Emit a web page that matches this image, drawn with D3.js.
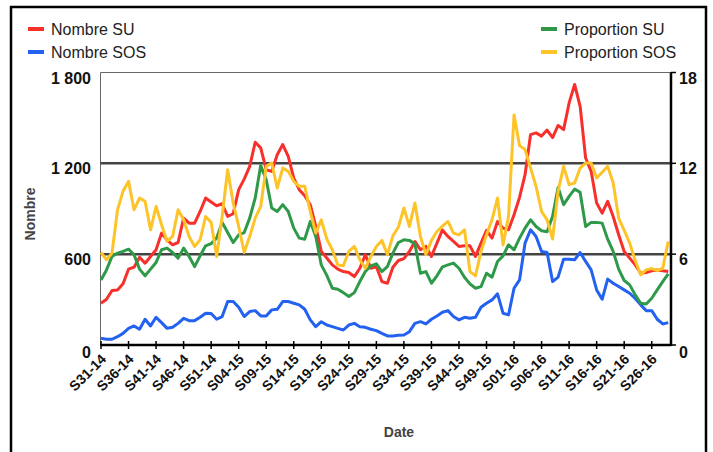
<!DOCTYPE html>
<html lang="fr">
<head>
  <meta charset="utf-8">
  <title>Nombre et proportion SU / SOS</title>
  <script src="https://d3js.org/d3.v7.min.js"></script>
  <style>
    body { margin: 0; background: #fff; font-family: "Liberation Sans", Arial, sans-serif; }
    svg { display: block; }
    .tick-lbl { font-size: 16px; font-weight: bold; fill: #111; }
    .x-lbl { font-size: 14px; font-weight: bold; fill: #111; }
    .legend text { font-size: 16px; fill: #222; }
    .title { font-size: 14px; font-weight: bold; fill: #444; }
  </style>
</head>
<body>
<svg width="713" height="452"></svg>
<script>
// Semaines (S31-14 .. S29-16)
const weeks = [
  "S31-14","S32-14","S33-14","S34-14","S35-14","S36-14","S37-14","S38-14","S39-14","S40-14","S41-14",
  "S42-14","S43-14","S44-14","S45-14","S46-14","S47-14","S48-14","S49-14","S50-14","S51-14","S52-14",
  "S01-15","S02-15","S03-15","S04-15","S05-15","S06-15","S07-15","S08-15","S09-15","S10-15","S11-15",
  "S12-15","S13-15","S14-15","S15-15","S16-15","S17-15","S18-15","S19-15","S20-15","S21-15","S22-15",
  "S23-15","S24-15","S25-15","S26-15","S27-15","S28-15","S29-15","S30-15","S31-15","S32-15","S33-15",
  "S34-15","S35-15","S36-15","S37-15","S38-15","S39-15","S40-15","S41-15","S42-15","S43-15","S44-15",
  "S45-15","S46-15","S47-15","S48-15","S49-15","S50-15","S51-15","S52-15","S53-15","S01-16","S02-16",
  "S03-16","S04-16","S05-16","S06-16","S07-16","S08-16","S09-16","S10-16","S11-16","S12-16","S13-16",
  "S14-16","S15-16","S16-16","S17-16","S18-16","S19-16","S20-16","S21-16","S22-16","S23-16","S24-16",
  "S25-16","S26-16","S27-16","S28-16","S29-16"
];

// Nombre SU (axe gauche)
const nombreSU = [
  276, 302, 360, 364, 404, 501, 514, 580, 540, 585, 629, 739, 695, 662, 677, 838, 805, 805, 882, 971, 945,
  920, 933, 849, 867, 1026, 1096, 1180, 1339, 1302, 1158, 1147, 1257, 1324, 1246, 1103, 1026, 986, 927, 783, 618, 575,
  529, 501, 485, 479, 452, 507, 596, 507, 518, 419, 408, 514, 558, 571, 618, 684, 629, 651, 585, 673, 760,
  717, 684, 651, 655, 655, 585, 673, 757, 706, 816, 772, 761, 860, 975, 1125, 1390, 1401, 1380, 1420, 1370, 1450,
  1423, 1599, 1721, 1577, 1235, 1147, 938, 871, 949, 849, 728, 618, 574, 529, 474, 479, 490, 496, 490, 485
];

// Nombre SOS (axe gauche)
const nombreSOS = [
  44, 38, 38, 55, 77, 110, 126, 104, 170, 126, 183, 148, 110, 117, 143, 176, 161, 161, 183, 210, 208,
  170, 188, 287, 287, 249, 188, 221, 227, 192, 192, 232, 236, 287, 287, 276, 265, 236, 166, 121, 154, 132,
  121, 110, 99, 132, 143, 121, 117, 104, 95, 77, 60, 60, 64, 66, 88, 143, 154, 139, 170, 192, 216,
  227, 188, 166, 183, 177, 183, 249, 276, 298, 338, 210, 199, 375, 430, 673, 761, 717, 618, 611, 419, 448,
  567, 567, 563, 611, 552, 496, 364, 302, 435, 408, 386, 364, 342, 307, 265, 227, 227, 170, 139, 148
];

// Proportion SU (axe droit, %)
const propSU = [
  4.30, 4.96, 5.85, 6.07, 6.18, 6.33, 5.96, 5.01, 4.57, 5.01, 5.45, 6.29, 6.40, 6.11, 5.74, 6.40, 5.85, 5.18, 5.89, 6.55, 6.70,
  7.06, 8.10, 7.43, 6.77, 7.28, 7.43, 8.38, 9.71, 11.85, 10.92, 9.05, 8.82, 9.27, 8.82, 7.72, 7.06, 6.99, 8.16, 7.17, 5.29, 4.60,
  3.75, 3.68, 3.46, 3.20, 3.46, 4.19, 4.85, 5.23, 5.36, 4.85, 5.18, 6.07, 6.77, 6.95, 6.91, 6.68, 4.74, 4.85, 4.08, 4.57, 5.16,
  5.29, 5.41, 5.07, 4.48, 4.04, 3.75, 3.86, 4.74, 4.48, 5.52, 5.89, 6.62, 6.29, 7.06, 7.72, 8.27, 7.83, 7.55, 7.48, 8.50, 10.40,
  9.27, 9.82, 10.30, 10.08, 7.83, 8.10, 8.10, 8.05, 6.99, 6.18, 5.01, 4.26, 3.97, 3.31, 2.76, 2.71, 3.09, 3.64, 4.19, 4.70
];

// Proportion SOS (axe droit, %)
const propSOS = [
  6.11, 5.63, 6.07, 8.93, 10.15, 10.81, 8.93, 9.71, 9.49, 7.61, 9.15, 7.94, 6.84, 7.17, 8.93, 8.27, 7.17, 6.51, 6.95, 8.49, 8.10,
  5.85, 8.49, 11.58, 9.38, 7.83, 6.11, 7.17, 8.38, 9.15, 11.80, 12.02, 10.37, 11.69, 11.47, 10.81, 10.48, 10.48, 8.82, 7.39, 8.27, 7.00,
  6.29, 5.29, 5.23, 6.18, 6.51, 5.63, 5.07, 5.85, 6.51, 6.91, 5.96, 7.21, 7.79, 9.05, 7.83, 9.38, 7.17, 5.96, 6.91, 7.50, 7.85,
  8.16, 7.39, 7.28, 7.61, 4.85, 4.57, 6.18, 7.28, 8.27, 9.71, 6.60, 8.50, 15.20, 13.17, 12.91, 11.69, 10.48, 8.82, 8.27, 7.00, 10.15,
  11.80, 10.59, 10.70, 11.69, 12.02, 12.02, 11.03, 11.41, 11.80, 10.70, 8.38, 7.57, 6.73, 5.58, 4.63, 4.96, 5.05, 4.92, 5.07, 6.84
];

const leftTicks = [0, 600, 1200, 1800];
const leftTickLabels = ["0", "600", "1 200", "1 800"];
const rightTicks = [0, 6, 12, 18];

const series = [
  { name: "Nombre SU", values: nombreSU, color: "#f7302c", axis: "left" },
  { name: "Nombre SOS", values: nombreSOS, color: "#2362f0", axis: "left" },
  { name: "Proportion SU", values: propSU, color: "#2e9a49", axis: "right" },
  { name: "Proportion SOS", values: propSOS, color: "#fdc42a", axis: "right" }
];

const svg = d3.select("svg");
const plotL = 100.5, plotR = 671, plotT = 72.5, plotB = 345;

const x = d3.scaleLinear().domain([0, weeks.length - 0.5]).range([plotL + 0.5, plotR]);
const yL = d3.scaleLinear().domain([0, 1800]).range([plotB, plotT]);
const yR = d3.scaleLinear().domain([0, 18]).range([plotB, plotT]);

// cadre extérieur
svg.append("rect")
  .attr("x", 11).attr("y", 7).attr("width", 695).attr("height", 460)
  .attr("fill", "none").attr("stroke", "#000").attr("stroke-width", 2.5);

// bordure de la zone de tracé (haut et gauche)
svg.append("path")
  .attr("d", `M${plotL},${plotB} V${plotT} H${plotR}`)
  .attr("fill", "none").attr("stroke", "#666").attr("stroke-width", 1);

// lignes de grille
svg.append("g").selectAll("line")
  .data(leftTicks.filter(d => d > 0 && d < 1800))
  .join("line")
  .attr("x1", plotL).attr("x2", plotR)
  .attr("y1", d => yL(d)).attr("y2", d => yL(d))
  .attr("stroke", "#444").attr("stroke-width", 2.5);

// courbes
const lineGen = (scale) => d3.line().x((d, i) => x(i)).y(d => scale(d));
svg.append("g").selectAll("path")
  .data(series)
  .join("path")
  .attr("d", s => lineGen(s.axis === "left" ? yL : yR)(s.values))
  .attr("fill", "none")
  .attr("stroke", s => s.color)
  .attr("stroke-width", 3)
  .attr("stroke-linejoin", "round");

// axe X
const xTickIdx = d3.range(0, weeks.length, 5);
const xAxis = svg.append("g");
xAxis.append("line")
  .attr("x1", plotL).attr("x2", plotR).attr("y1", plotB).attr("y2", plotB)
  .attr("stroke", "#000").attr("stroke-width", 2.5);
xAxis.selectAll(".xt").data(xTickIdx).join("line")
  .attr("x1", d => x(d)).attr("x2", d => x(d))
  .attr("y1", plotB - 4).attr("y2", plotB + 4)
  .attr("stroke", "#000").attr("stroke-width", 1.5);
xAxis.selectAll("text").data(xTickIdx).join("text")
  .attr("class", "x-lbl")
  .attr("text-anchor", "end")
  .attr("transform", d => `translate(${x(d) + 6},${plotB + 15}) rotate(-45)`)
  .text(d => weeks[d]);

// axe droit
const rAxis = svg.append("g");
rAxis.append("line")
  .attr("x1", plotR).attr("x2", plotR).attr("y1", plotT).attr("y2", plotB + 1)
  .attr("stroke", "#000").attr("stroke-width", 2.5);
rAxis.selectAll(".rt").data(rightTicks).join("line")
  .attr("x1", plotR).attr("x2", plotR + 5)
  .attr("y1", d => yR(d)).attr("y2", d => yR(d))
  .attr("stroke", "#000").attr("stroke-width", 1.5);
rAxis.selectAll("text").data(rightTicks).join("text")
  .attr("class", "tick-lbl")
  .attr("x", plotR + 8)
  .attr("y", d => yR(d) + (d === 0 ? 13 : 11))
  .text(d => d);

// axe gauche (étiquettes)
svg.append("g").selectAll("text").data(leftTicks).join("text")
  .attr("class", "tick-lbl")
  .attr("text-anchor", "end")
  .attr("x", 91)
  .attr("y", d => yL(d) + (d === 0 ? 13 : 11))
  .text((d, i) => leftTickLabels[i]);

// titres d'axes
svg.append("text").attr("class", "title")
  .attr("text-anchor", "middle")
  .attr("transform", "translate(35,214) rotate(-90)")
  .text("Nombre");
svg.append("text").attr("class", "title")
  .attr("text-anchor", "middle")
  .attr("x", 399).attr("y", 437)
  .text("Date");

// légende
const legendPos = [
  { x: 28, y: 29 }, { x: 28, y: 52 }, { x: 541, y: 29 }, { x: 541, y: 52 }
];
const legend = svg.append("g").attr("class", "legend");
series.forEach((s, i) => {
  const p = legendPos[i];
  legend.append("line")
    .attr("x1", p.x).attr("x2", p.x + 16).attr("y1", p.y).attr("y2", p.y)
    .attr("stroke", s.color).attr("stroke-width", 4);
  legend.append("text")
    .attr("x", p.x + 23).attr("y", p.y + 6)
    .text(s.name);
});
</script>
</body>
</html>
